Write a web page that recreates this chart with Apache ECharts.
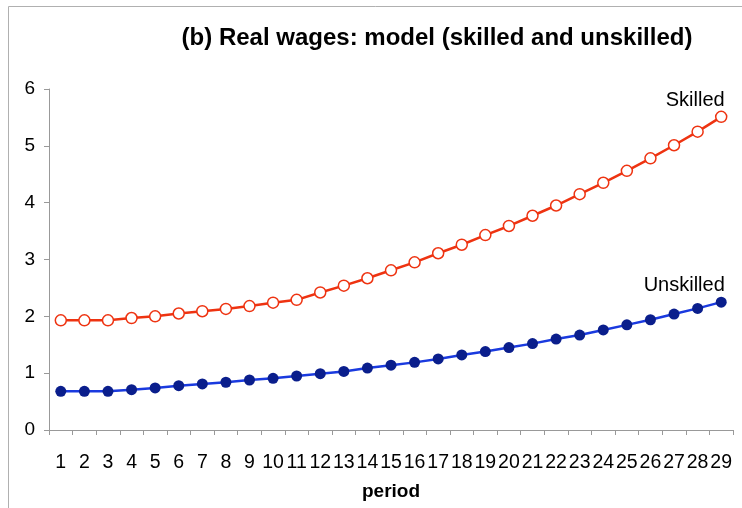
<!DOCTYPE html>
<html>
<head>
<meta charset="utf-8">
<script src="https://cdn.jsdelivr.net/npm/echarts@6/dist/echarts.min.js"></script>
<style>
  html, body { margin: 0; padding: 0; background: #fff; }
  #chart { width: 742px; height: 508px; }
</style>
</head>
<body>
<div id="chart"></div>
<script>
// periods 1..29
var periods = ['1','2','3','4','5','6','7','8','9','10','11','12','13','14','15',
  '16','17','18','19','20','21','22','23','24','25','26','27','28','29'];

// real wages
var skilled = [1.93, 1.93, 1.93, 1.97, 2.00, 2.05, 2.09, 2.13, 2.18, 2.24, 2.29, 2.42, 2.54, 2.67, 2.81,
  2.95, 3.11, 3.26, 3.43, 3.59, 3.77, 3.95, 4.15, 4.35, 4.56, 4.78, 5.01, 5.25, 5.51];
var unskilled = [0.68, 0.68, 0.68, 0.71, 0.74, 0.78, 0.81, 0.84, 0.88, 0.91, 0.95, 0.99, 1.03, 1.09, 1.14,
  1.19, 1.25, 1.32, 1.38, 1.45, 1.52, 1.60, 1.67, 1.76, 1.85, 1.94, 2.04, 2.14, 2.25];

var yTicks = [0, 1, 2, 3, 4, 5, 6];

var font = '"Liberation Sans", Arial, sans-serif';
var last = periods.length - 1;

function endName(p) {
  return p.dataIndex === last ? p.seriesName : '';
}

var chart = echarts.init(document.getElementById('chart'));
chart.setOption({
  backgroundColor: '#fff',
  animation: false,
  title: {
    text: '(b) Real wages: model (skilled and unskilled)',
    left: 432,
    textAlign: 'center',
    top: 21,
    textStyle: { fontFamily: font, fontWeight: 'bold', fontSize: 24, color: '#000' }
  },
  graphic: [{
    type: 'rect',
    shape: { x: 8.5, y: 6.5, width: 900, height: 700 },
    style: { fill: 'none', stroke: '#b0b0b0', lineWidth: 1 },
    silent: true
  }],
  grid: { left: 49, right: 9, top: 89, bottom: 78, outerBoundsMode: 'none', containLabel: false },
  xAxis: {
    type: 'category',
    data: periods,
    boundaryGap: true,
    name: 'period',
    nameLocation: 'middle',
    nameGap: 52,
    nameTextStyle: { fontFamily: font, fontWeight: 'bold', fontSize: 19, color: '#000' },
    axisLine: { lineStyle: { color: '#999', width: 1 } },
    axisTick: { show: true, alignWithLabel: false, length: 5, lineStyle: { color: '#999' } },
    axisLabel: { interval: 0, fontFamily: font, fontSize: 19.5, color: '#000', margin: 23 },
    splitLine: { show: false }
  },
  yAxis: {
    type: 'value',
    min: yTicks[0],
    max: yTicks[yTicks.length - 1],
    interval: 1,
    axisLine: { show: true, lineStyle: { color: '#999', width: 1 } },
    axisTick: { show: true, length: 5, lineStyle: { color: '#999' } },
    axisLabel: { fontFamily: font, fontSize: 19, color: '#000', margin: 14 },
    splitLine: { show: false }
  },
  series: [{
    name: 'Skilled',
    type: 'line',
    data: skilled,
    symbol: 'circle',
    symbolSize: 11,
    lineStyle: { color: '#ee3311', width: 2.5 },
    itemStyle: { color: '#fff', borderColor: '#ee3311', borderWidth: 1.5 },
    label: {
      show: true,
      position: 'top',
      formatter: endName,
      offset: [-26, 5],
      fontFamily: font,
      fontSize: 20,
      color: '#000'
    }
  }, {
    name: 'Unskilled',
    type: 'line',
    data: unskilled,
    symbol: 'circle',
    symbolSize: 11,
    lineStyle: { color: '#1a3adf', width: 2.5 },
    itemStyle: { color: '#0a1e8c', borderWidth: 0 },
    label: {
      show: true,
      position: 'top',
      formatter: endName,
      offset: [-37, 4],
      fontFamily: font,
      fontSize: 20,
      color: '#000'
    }
  }]
});
</script>
</body>
</html>
